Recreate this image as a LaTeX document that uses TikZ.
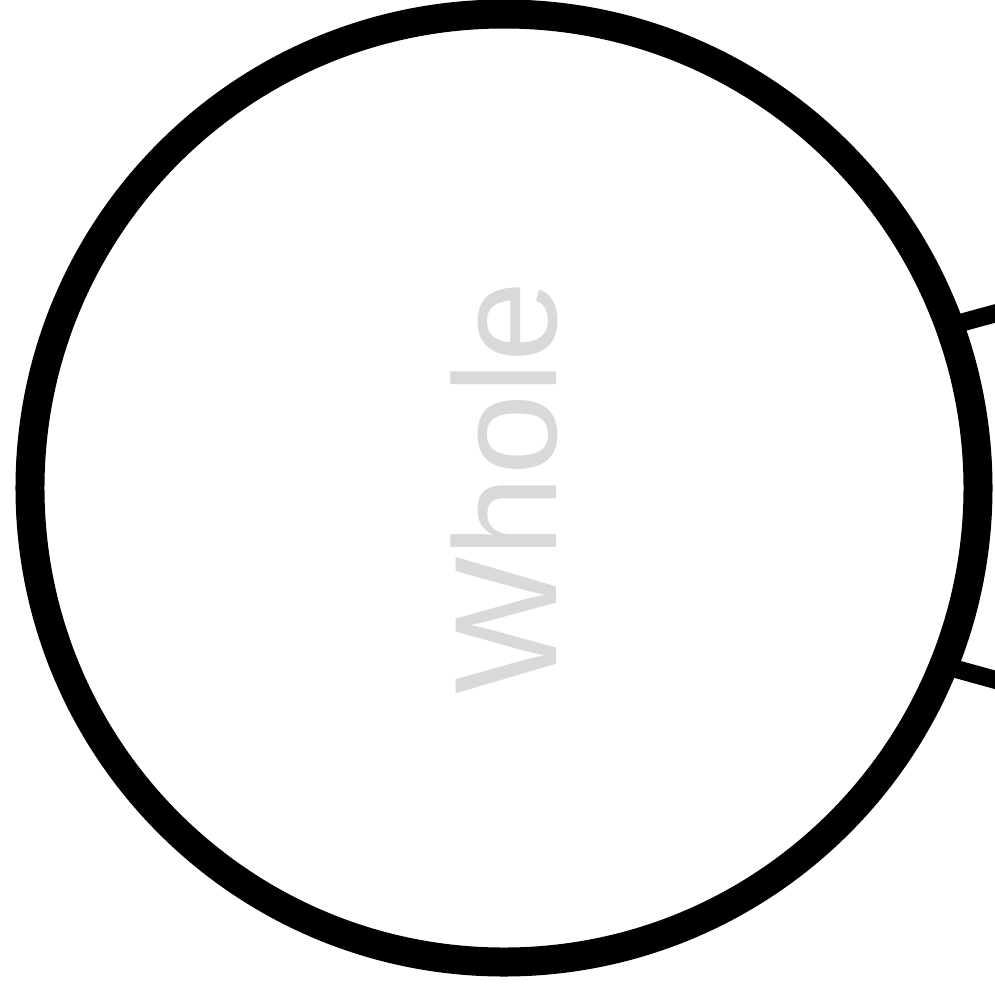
\documentclass[tikz,border=0pt]{standalone}
\usepackage{fontspec}
\setmainfont{Liberation Sans}
\usepackage{graphicx}
\usepackage{xcolor}
\definecolor{cLabel}{HTML}{D9D9D9}
\tikzset{
  partnode/.style={circle, draw=black, line width=5.8mm, fill=white,
                   minimum size=189.6mm, inner sep=0pt, outer sep=0pt,
                   text=cLabel, font=\fontsize{83}{90}\selectfont},
  link/.style={draw=black, line width=3.6mm},
}

\begin{document}
\begin{tikzpicture}[x=0.2mm, y=-0.2mm]

% Frame
\useasboundingbox (0, 0) rectangle (995, 985);
\clip (0, 0) rectangle (995, 985);

% Whole
\node[partnode] (whole) at (504, 488) {\rotatebox{90}{Whole}};

% Links leaving to the right
\coordinate (outA) at (1100, 284.75);
\coordinate (outB) at (1100, 708.7);
\draw[link] (whole.20.4) -- (outA);
\draw[link] (whole.-22.7) -- (outB);

\end{tikzpicture}
\end{document}
